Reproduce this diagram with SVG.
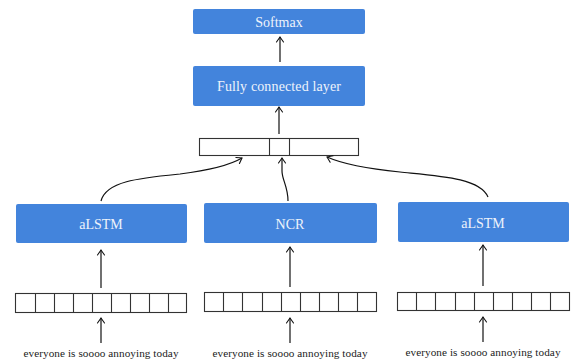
<svg xmlns="http://www.w3.org/2000/svg" width="573" height="361" viewBox="0 0 573 361">
<style>
.box{fill:#4384dc;}
.lbl{font-family:"Liberation Serif","DejaVu Serif",serif;font-size:14px;fill:#eef3fb;text-anchor:middle;}
.cap{font-family:"Liberation Serif","DejaVu Serif",serif;font-size:11.2px;fill:#222;text-anchor:middle;}
.cell{fill:#fff;stroke:#333;stroke-width:1.1;}
.div{stroke:#333;stroke-width:1.1;}
.conn{fill:none;stroke:#111;stroke-width:1.2;marker-end:url(#ah);}
</style>
<defs>
<marker id="ah" markerWidth="10" markerHeight="10" refX="0" refY="0" viewBox="-6 -5 8 10" orient="auto" markerUnits="userSpaceOnUse">
<path d="M-5,-3.5 Q-1.5,-1 0,0 Q-1.5,1 -5,3.5" fill="none" stroke="#111" stroke-width="1.1" stroke-linecap="round"/>
</marker>
</defs>
<g id="softmax"><rect class="box" x="193" y="9" width="172" height="25" rx="2"/><text class="lbl" x="279" y="26.5">Softmax</text></g>
<g id="fc"><rect class="box" x="193" y="66" width="172" height="40" rx="2"/><text class="lbl" x="279" y="91" textLength="124" lengthAdjust="spacing">Fully connected layer</text></g>
<g id="concat"><rect class="cell" x="199.5" y="138.5" width="159" height="17"/><line class="div" x1="269.5" y1="138.5" x2="269.5" y2="155.5"/><line class="div" x1="289.5" y1="138.5" x2="289.5" y2="155.5"/></g>
<g id="alstm1"><rect class="box" x="16" y="204" width="171" height="39" rx="2"/><text class="lbl" x="101" y="229">aLSTM</text></g>
<g id="ncr"><rect class="box" x="204" y="203" width="173" height="40" rx="2"/><text class="lbl" x="290" y="228.5">NCR</text></g>
<g id="alstm2"><rect class="box" x="398" y="202" width="171" height="40" rx="2"/><text class="lbl" x="483" y="227.5">aLSTM</text></g>
<g id="seq1"><rect class="cell" x="15.5" y="293.5" width="171" height="19"/>
<path class="div" d="M35.5,293.5V312.5M54.5,293.5V312.5M73.5,293.5V312.5M92.5,293.5V312.5M111.5,293.5V312.5M130.5,293.5V312.5M149.5,293.5V312.5M168.5,293.5V312.5"/></g>
<g id="seq2"><rect class="cell" x="204.5" y="292.5" width="172" height="19"/>
<path class="div" d="M223.5,292.5V311.5M242.5,292.5V311.5M262.5,292.5V311.5M281.5,292.5V311.5M300.5,292.5V311.5M319.5,292.5V311.5M338.5,292.5V311.5M357.5,292.5V311.5"/></g>
<g id="seq3"><rect class="cell" x="397.5" y="292.5" width="172" height="18"/>
<path class="div" d="M416.5,292.5V310.5M435.5,292.5V310.5M455.5,292.5V310.5M474.5,292.5V310.5M493.5,292.5V310.5M512.5,292.5V310.5M531.5,292.5V310.5M550.5,292.5V310.5"/></g>
<g id="cap1"><text class="cap" x="101" y="357" textLength="155" lengthAdjust="spacing">everyone is soooo annoying today</text></g>
<g id="cap2"><text class="cap" x="290" y="357" textLength="155" lengthAdjust="spacing">everyone is soooo annoying today</text></g>
<g id="cap3"><text class="cap" x="483" y="356" textLength="155" lengthAdjust="spacing">everyone is soooo annoying today</text></g>
<g id="connectors">
<path class="conn" d="M280,62V37"/>
<path class="conn" d="M279,134V107"/>
<path class="conn" d="M101,201C106,181 140,178 180,174C212,170 230,165 242,158"/>
<path class="conn" d="M288,201C288,186 282,180 282,171L282,158"/>
<path class="conn" d="M488,197C480,178 440,176 400,172C370,169 345,165 327,157"/>
<path class="conn" d="M101,288V250"/>
<path class="conn" d="M290,287V247"/>
<path class="conn" d="M483,286V245"/>
<path class="conn" d="M101,343V318"/>
<path class="conn" d="M290,343V318"/>
<path class="conn" d="M483,342V317"/>
</g>
</svg>
